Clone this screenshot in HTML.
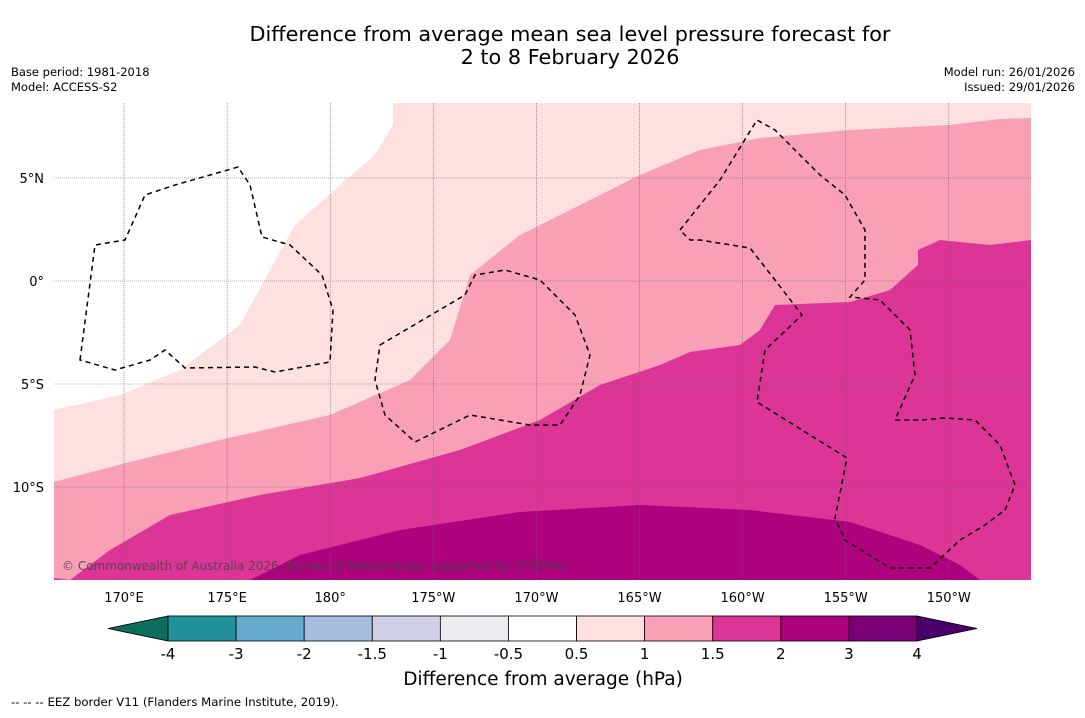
<!DOCTYPE html>
<html><head><meta charset="utf-8"><style>
body{margin:0;background:#fff;width:1085px;height:713px;overflow:hidden;font-family:"Liberation Sans","DejaVu Sans",sans-serif}
</style></head><body>
<svg width="1085" height="713" xmlns="http://www.w3.org/2000/svg" font-family="DejaVu Sans, Liberation Sans, sans-serif">
<text x="570" y="41" font-size="20.8" text-anchor="middle">Difference from average mean sea level pressure forecast for</text>
<text x="570" y="64" font-size="20.8" text-anchor="middle">2 to 8 February 2026</text>
<text x="11" y="76" font-size="11.5">Base period: 1981-2018</text>
<text x="11" y="91" font-size="11.5">Model: ACCESS-S2</text>
<text x="1075" y="76" font-size="11.5" text-anchor="end">Model run: 26/01/2026</text>
<text x="1075" y="91" font-size="11.5" text-anchor="end">Issued: 29/01/2026</text>
<defs><clipPath id="mc"><rect x="54" y="103" width="977" height="477"/></clipPath></defs>
<g clip-path="url(#mc)">
<rect x="54" y="103" width="977" height="477" fill="#fde0df"/>
<path d="M54,103 L393,103 L393,125 L375,155 L340,185 L295,225 L270,270 L240,325 L180,370 L120,395 L54,410 Z" fill="#fff"/>
<path d="M54,482 L130,462 L220,440 L330,415 L410,380 L450,340 L470,275 L520,235 L600,195 L640,175 L700,150 L760,138 L850,130 L950,125 L1000,119 L1031,118 L1031,590 L54,590 Z" fill="#f99fb6"/>
<path d="M54,590 L54,578 L70,580 L110,550 L170,515 L260,495 L360,478 L460,450 L540,420 L600,385 L660,365 L690,352 L740,345 L760,330 L775,305 L850,302 L890,290 L918,265 L918,250 L940,240 L990,245 L1031,240 L1031,590 Z" fill="#dd3497"/>
<path d="M250,590 L250,580 L300,555 L400,530 L520,512 L640,505 L750,510 L850,522 L920,545 L960,565 L980,580 L985,590 Z" fill="#ae017e"/>
<g id="grid" stroke="#666" stroke-width="0.6" stroke-dasharray="1,1"></g>
<g fill="none" stroke="#000" stroke-width="1.5" stroke-dasharray="5,4">
<path d="M80,360 L95,245 L125,240 L145,195 L175,185 L238,167 L250,185 L262,237 L290,245 L322,275 L333,310 L330,362 L275,372 L255,367 L185,368 L165,350 L150,360 L115,370 Z"/>
<path d="M380,345 L465,295 L475,275 L505,270 L540,280 L575,315 L590,355 L580,395 L560,425 L530,425 L470,415 L415,442 L385,415 L375,380 Z"/>
<path d="M680,230 L720,180 L757,120 L775,130 L820,175 L845,195 L865,230 L865,280 L850,297 L880,300 L910,330 L915,375 L895,420 L920,420 L945,418 L975,420 L1000,445 L1015,485 L1005,510 L985,525 L960,540 L930,568 L890,568 L845,540 L835,518 L847,458 L757,402 L765,350 L802,315 L775,280 L750,248 L700,240 L690,240 Z"/>
</g>
<text x="62" y="570" font-size="12" fill="#444" opacity="0.85">© Commonwealth of Australia 2026, Bureau of Meteorology, supported by COSPPac</text>
</g>
<g id="axlabels" font-size="13"></g>
<g id="cbar"></g>
<text x="543" y="685" font-size="18.5" text-anchor="middle">Difference from average (hPa)</text>
<text x="11" y="706" font-size="11.7">--  --  -- EEZ border V11 (Flanders Marine Institute, 2019).</text>
</svg>
<script>
const lonLabels=["170°E","175°E","180°","175°W","170°W","165°W","160°W","155°W","150°W"];
const lonValues=[170,175,180,185,190,195,200,205,210];
const latLabels=["5°N","0°","5°S","10°S"];
const latValues=[5,0,-5,-10];
const cbLevels=["-4","-3","-2","-1.5","-1","-0.5","0.5","1","1.5","2","3","4"];
const cbColors=["#21929b","#66aad0","#a7bddd","#d0d1e6","#ebeaee","#ffffff","#fde0df","#f99fb6","#dd3497","#ae017e","#7a0177"];
const cbLow="#0e6e5e", cbHigh="#49006a";
const NS="http://www.w3.org/2000/svg";
const xLon=l=>124+(l-170)*20.62;
const yLat=v=>281-v*20.6;
const grid=document.getElementById('grid'), ax=document.getElementById('axlabels');
lonValues.forEach((l,i)=>{
 const ln=document.createElementNS(NS,'line');
 ln.setAttribute('x1',xLon(l));ln.setAttribute('x2',xLon(l));ln.setAttribute('y1',103);ln.setAttribute('y2',580);
 
 
 grid.appendChild(ln);
 const t=document.createElementNS(NS,'text');
 t.setAttribute('x',xLon(l));t.setAttribute('y',602);t.setAttribute('text-anchor','middle');t.textContent=lonLabels[i];
 
 
 ax.appendChild(t);
});
latValues.forEach((v,i)=>{
 const ln=document.createElementNS(NS,'line');
 ln.setAttribute('x1',54);ln.setAttribute('x2',1031);ln.setAttribute('y1',yLat(v));ln.setAttribute('y2',yLat(v));
 
 
 grid.appendChild(ln);
 const t=document.createElementNS(NS,'text');
 t.setAttribute('x',44);t.setAttribute('y',yLat(v)+5);t.setAttribute('text-anchor','end');t.textContent=latLabels[i];
 
 
 ax.appendChild(t);
});
const cb=document.getElementById('cbar');
const x0=168,x1=917,y0=616,y1=641,w=(x1-x0)/cbColors.length;
const tl=document.createElementNS(NS,'polygon');
tl.setAttribute('points',`${x0},${y0} ${x0},${y1} 108,${(y0+y1)/2}`);tl.setAttribute('fill',cbLow);tl.setAttribute('stroke','#000');tl.setAttribute('stroke-width','0.8');


cb.appendChild(tl);
const tr=document.createElementNS(NS,'polygon');
tr.setAttribute('points',`${x1},${y0} ${x1},${y1} 977,${(y0+y1)/2}`);tr.setAttribute('fill',cbHigh);tr.setAttribute('stroke','#000');tr.setAttribute('stroke-width','0.8');


cb.appendChild(tr);
cbColors.forEach((c,i)=>{
 const r=document.createElementNS(NS,'rect');
 r.setAttribute('x',x0+i*w);r.setAttribute('y',y0);r.setAttribute('width',w);r.setAttribute('height',y1-y0);
 r.setAttribute('fill',c);r.setAttribute('stroke','#000');r.setAttribute('stroke-width','0.8');
 
 
 cb.appendChild(r);
});
cbLevels.forEach((s,i)=>{
 const t=document.createElementNS(NS,'text');
 t.setAttribute('x',x0+i*w);t.setAttribute('y',659);t.setAttribute('text-anchor','middle');t.setAttribute('font-size','15');t.textContent=s;
 
 
 cb.appendChild(t);
});
</script>
</body></html>
